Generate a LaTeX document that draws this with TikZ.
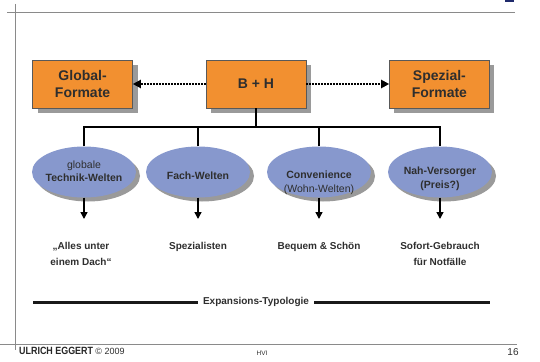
\documentclass[tikz,border=0pt]{standalone}
\usepackage{fontspec}
\setmainfont{Liberation Sans}
\usepackage{graphicx}
\usetikzlibrary{positioning, shapes.geometric, arrows.meta, shadows}

\definecolor{boxorange}{HTML}{F29030}
\definecolor{ellblue}{HTML}{8798CD}
\definecolor{shadowgrey}{HTML}{9A9A9A}
\definecolor{textgrey}{HTML}{2E2E2E}
\definecolor{framegrey}{HTML}{8A8A8A}
\definecolor{logonavy}{HTML}{1F2A6B}

\begin{document}
\begin{tikzpicture}[
                x=1pt, y=-1pt,
                format/.style={draw=black!65, fill=boxorange, rectangle, minimum width=100pt, minimum height=48pt, align=center, font=\fontsize{14}{17.5}\selectfont\bfseries, text=textgrey, drop shadow={shadow xshift=5pt, shadow yshift=-5pt, fill=shadowgrey, opacity=1}},
                welt/.style={ellipse, fill=ellblue, minimum width=104pt, minimum height=51pt, inner sep=0pt, drop shadow={shadow xshift=4pt, shadow yshift=-4pt, fill=shadowgrey, opacity=1}},
                weltlabel/.style={align=center, inner sep=0pt, font=\fontsize{10.5}{13.5}\selectfont, text=textgrey},
                result/.style={anchor=north, align=center, inner sep=0pt, font=\fontsize{10}{16.5}\selectfont\bfseries, text=textgrey},
                dotarrow/.style={line width=2pt, dash pattern=on 1.6pt off 1.4pt, -{Triangle[length=8pt, width=8pt]}},
                bus/.style={line width=1.3pt},
                downarrow/.style={line width=1.5pt, -{Triangle[length=7pt, width=7pt]}, shorten >=23pt},
                frameline/.style={draw=framegrey, line width=0.9pt}
            ]
            \useasboundingbox (0,0) rectangle (540,361);

            % Rahmen
            \draw[frameline] (7,12) -- (515,12);
            \draw[frameline] (15,4) -- (15,350);
            \draw[frameline] (0,344) -- (517,344);
            \fill[logonavy] (505,0) rectangle (514,2.5);

            % Knoten
            \node[format] (bh) at (256,84) {B + H};
            \node[format, left=73pt of bh] (glob) {Global-\\Formate};
            \node[format, right=83pt of bh] (spez) {Spezial-\\Formate};

            \node[welt] (w1) at (84,172) {};
            \node[welt] (w2) at (198,172) {};
            \node[welt] (w3) at (319,172) {};
            \node[welt] (w4) at (440,172) {};

            \node[weltlabel] (t1) at (84,171) {globale\\\textbf{Technik-Welten}};
            \node[weltlabel] (t2) at (198,176) {\textbf{Fach-Welten}};
            \node[weltlabel] (t3) at (319,183) {\textbf{Convenience}\\(Wohn-Welten)};
            \node[weltlabel] (t4) at (440,179) {\textbf{Nah-Versorger}\\\textbf{(Preis?)}};

            \node[result] (r1) at (81,242) {„Alles unter\\einem Dach“};
            \node[result] (r2) at (198,242) {Spezialisten};
            \node[result] (r3) at (319,242) {Bequem \& Schön};
            \node[result] (r4) at (440,242) {Sofort-Gebrauch\\für Notfälle};

            \coordinate (bus) at (256,127);

            % Kanten zwischen Knoten
            \draw[dotarrow] (bh.west) -- (glob.east);
            \draw[dotarrow] (bh.east) -- (spez.west);

            \draw[bus, line width=2.2pt] (bh.south) -- (bus);
            \draw[bus] (w1.north) |- (w4.north |- bus) -- (w4.north);
            \draw[bus] (w2.north) -- (w2.north |- bus);
            \draw[bus] (w3.north) -- (w3.north |- bus);

            \draw[downarrow] (w1.south) -- (w1.south |- r1.north);
            \draw[downarrow] (w2.south) -- (w2.south |- r2.north);
            \draw[downarrow] (w3.south) -- (w3.south |- r3.north);
            \draw[downarrow] (w4.south) -- (w4.south |- r4.north);

            % Typologie
            \node[font=\fontsize{10}{12}\selectfont\bfseries, text=textgrey, inner sep=5pt] (typo) at (256,302) {Expansions-Typologie};
            \coordinate (tl) at (33,302);
            \coordinate (tr) at (490,302);
            \draw[line width=3pt, black!90] (tl) -- (typo.west);
            \draw[line width=3pt, black!90] (typo.east) -- (tr);

            % Fusszeile
            \node[anchor=west, inner sep=0pt, text=black!85] (eggert) at (19,351) {\scalebox{0.85}[1]{\fontsize{10.5}{12}\selectfont\bfseries ULRICH EGGERT}};
            \node[right=2pt of eggert, inner sep=0pt, font=\fontsize{9}{10}\selectfont, text=textgrey] (copy) {© 2009};
            \node[inner sep=0pt, font=\fontsize{6.5}{8}\selectfont, text=textgrey] (hvi) at (262,353) {HVI};
            \node[inner sep=0pt, font=\fontsize{10}{12}\selectfont, text=textgrey] (page) at (513,352) {16};

        \end{tikzpicture}
\end{document}
